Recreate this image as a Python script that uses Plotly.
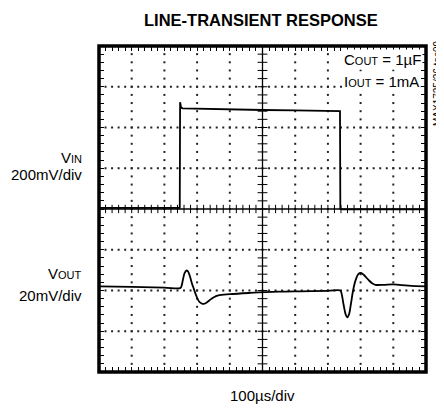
import plotly.graph_objects as go

# ---------------- data (time in µs, amplitude in scope divisions) ----------------
vin_t = [0, 150, 247, 248, 251, 256, 300, 400, 500, 600, 700, 737, 738, 745, 850, 1000]
vin_y = [0.03, 0.03, 0.03, 2.62, 2.49, 2.47, 2.46, 2.45, 2.43, 2.42, 2.41, 2.40, 0.0, -0.01, -0.01, -0.01]

vout_t = [0, 100, 200, 248, 252, 257, 262, 267, 272, 278, 284, 290, 298, 306, 314, 320, 328,
          338, 350, 365, 400, 462, 550, 616, 700, 738, 742, 748, 754, 759, 764, 770, 777,
          785, 793, 801, 810, 824, 835, 845, 870, 900, 946, 1000]
vout_y = [-1.90, -1.91, -1.93, -1.94, -1.90, -1.72, -1.57, -1.51, -1.53, -1.65, -1.82, -1.96,
          -2.14, -2.27, -2.32, -2.33, -2.30, -2.24, -2.17, -2.12, -2.09, -2.06, -2.03, -2.02,
          -2.01, -2.00, -2.08, -2.35, -2.58, -2.66, -2.60, -2.35, -2.00, -1.74, -1.60, -1.57,
          -1.62, -1.74, -1.82, -1.86, -1.86, -1.85, -1.88, -1.90]

x_major = [100, 200, 300, 400, 600, 700, 800, 900]
y_major = [-3, -2, -1, 1, 2, 3]
x_minor_step = 20
y_minor_step = 0.2

title_text = "LINE-TRANSIENT RESPONSE"
SUB = '<span style="font-size:11px">{}</span>'
cond_lines = ["C" + SUB.format("OUT") + " = 1µF", "I" + SUB.format("OUT") + " = 1mA"]
vin_label = ["V" + SUB.format("IN"), "200mV/div"]
vout_label = ["V" + SUB.format("OUT"), "20mV/div"]
x_label = "100µs/div"
side_note = "MAX1725/26 toc09"

# ---------------- layout geometry ----------------
# the page body has an 8px margin, so the figure is offset by 8px
OFF = 8
W, H = 444 - OFF, 408 - OFF
PL, PR, PT, PB = 99, 426, 46, 372          # wanted plot box in page pixels
ML, MR, MT, MB = PL - OFF, 444 - PR, PT - OFF, 408 - PB
PW, PH = W - ML - MR, H - MT - MB

def px(x):
    return (x - PL) / PW

def py(y):
    return (PB - y) / PH

FONT = "Liberation Sans, Arial, sans-serif"

fig = go.Figure()

# dotted graticule
xs_minor = [i * x_minor_step for i in range(int(1000 / x_minor_step) + 1)]
ys_minor = [round(-4 + i * y_minor_step, 3) for i in range(int(8 / y_minor_step) + 1)]
gx, gy = [], []
for xm in x_major:
    for yv in ys_minor:
        gx.append(xm); gy.append(yv)
for ym in y_major:
    for xv in xs_minor:
        gx.append(xv); gy.append(ym)
fig.add_trace(go.Scatter(x=gx, y=gy, mode="markers",
                         marker=dict(symbol="square", size=2, color="#222222", line=dict(width=0)),
                         hoverinfo="skip", showlegend=False))

# center cross ticks
fig.add_trace(go.Scatter(x=xs_minor, y=[0] * len(xs_minor), mode="markers",
                         marker=dict(symbol="line-ns", size=6, line=dict(width=1, color="black")),
                         hoverinfo="skip", showlegend=False))
fig.add_trace(go.Scatter(x=[500] * len(ys_minor), y=ys_minor, mode="markers",
                         marker=dict(symbol="line-ew", size=7, line=dict(width=1, color="black")),
                         hoverinfo="skip", showlegend=False))

# center lines
fig.add_shape(type="line", xref="x", yref="y", x0=0, x1=1000, y0=0, y1=0,
              line=dict(color="black", width=1.3))
fig.add_shape(type="line", xref="x", yref="y", x0=500, x1=500, y0=-4, y1=4,
              line=dict(color="black", width=1.3))

# traces
fig.add_trace(go.Scatter(x=vin_t, y=vin_y, mode="lines",
                         line=dict(color="black", width=1.8), showlegend=False))
fig.add_trace(go.Scatter(x=vout_t, y=vout_y, mode="lines", line_shape="spline",
                         line=dict(color="black", width=1.8), showlegend=False))

# border
fig.add_shape(type="rect", xref="paper", yref="paper", x0=0, x1=1, y0=0, y1=1,
              line=dict(color="black", width=3.5), layer="above")

axis_common = dict(showgrid=False, zeroline=False, showline=False, showticklabels=False,
                   ticks="inside", ticklen=5, tickwidth=1, tickcolor="black", mirror="ticks",
                   fixedrange=True)
fig.update_xaxes(range=[0, 1000], tick0=0, dtick=x_minor_step, **axis_common)
fig.update_yaxes(range=[-4, 4], tick0=-4, dtick=y_minor_step, **axis_common)

ann = []
ann.append(dict(text="<b>" + title_text + "</b>", x=px(261), y=py(20), xanchor="center",
                yanchor="middle", font=dict(size=16.5, family=FONT, color="black")))
ann.append(dict(text=cond_lines[0], x=px(342), y=py(59), xanchor="left", yanchor="middle",
                bgcolor="white", borderpad=1,
                font=dict(size=15, family=FONT, color="black")))
ann.append(dict(text=cond_lines[1], x=px(342), y=py(81), xanchor="left", yanchor="middle",
                bgcolor="white", borderpad=1,
                font=dict(size=15, family=FONT, color="black")))
ann.append(dict(text=vin_label[0], x=px(84), y=py(157), xanchor="right", yanchor="middle",
                font=dict(size=15, family=FONT, color="black")))
ann.append(dict(text=vin_label[1], x=px(84), y=py(174), xanchor="right", yanchor="middle",
                font=dict(size=15, family=FONT, color="black")))
ann.append(dict(text=vout_label[0], x=px(84), y=py(273), xanchor="right", yanchor="middle",
                font=dict(size=15, family=FONT, color="black")))
ann.append(dict(text=vout_label[1], x=px(84), y=py(295), xanchor="right", yanchor="middle",
                font=dict(size=15, family=FONT, color="black")))
ann.append(dict(text=x_label, x=px(262), y=py(395), xanchor="center", yanchor="middle",
                font=dict(size=15, family=FONT, color="black")))
ann.append(dict(text=side_note, x=px(437), y=py(84), xanchor="center", yanchor="middle",
                textangle=-90, font=dict(size=10, family=FONT, color="black")))
for a in ann:
    a.update(xref="paper", yref="paper", showarrow=False)
fig.update_layout(annotations=ann)

fig.update_layout(width=W, height=H, margin=dict(l=ML, r=MR, t=MT, b=MB),
                  paper_bgcolor="white", plot_bgcolor="white", showlegend=False)

fig.write_html("out.html")
